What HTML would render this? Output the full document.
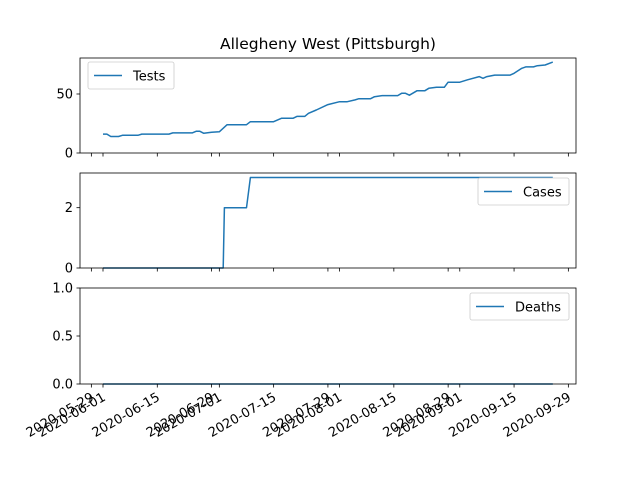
<!DOCTYPE html>
<html><head><meta charset="utf-8"><style>
body{margin:0;background:#fff}
svg{display:block;font-family:"DejaVu Sans","Liberation Sans",sans-serif}
</style></head><body>
<svg id="c" width="640" height="480" xmlns="http://www.w3.org/2000/svg"></svg>
<script>
const days=[0,1,2,4,5,9,10,17,18,23,24,25,26,28,30,32,37,38,44,46,49,50,52,53,55,58,61,63,65,66,69,70,72,76,77,78,79,81,83,84,86,88,89,92,94,97,98,99,101,105,106,108,109,111,112,114,116];
const tests=[16,16,14,14,15,15,16,16,17,17,18.4,18.4,16.7,17.5,18,24,24,26.5,26.5,29.4,29.4,31,31,33.6,36.4,41,43.5,43.5,45,46,46,47.7,48.6,48.6,50.6,50.6,49,52.8,52.8,54.8,55.7,55.7,60,60,62,64.7,63.3,64.7,66,66,67.5,71.8,73,73,74,74.6,77];
const caseDays=[0,31,31.3,37,38,116];
const cases=[0,0,2,2,3,3];
const deathDays=[0,116];
const deaths=[0,0];
const tickDays=[-3,0,14,28,30,44,58,61,75,89,92,106,120];
const tickLabels=["2020-05-29","2020-06-01","2020-06-15","2020-06-29","2020-07-01","2020-07-15","2020-07-29","2020-08-01","2020-08-15","2020-08-29","2020-09-01","2020-09-15","2020-09-29"];
const NS="http://www.w3.org/2000/svg";
const svg=document.getElementById('c');
function el(t,a,p){const e=document.createElementNS(NS,t);for(const k in a)e.setAttribute(k,a[k]);(p||svg).appendChild(e);return e;}
const L=80,R=576;
const xs=d=>103+3.878*d;
const panels=[
 {name:'tests',top:58,bot:153,ymax:80.5,yt:[0,50],yl:["0","50"],dx:days,dy:tests,leg:"Tests",lx:88,ly:62,lw:86},
 {name:'cases',top:173,bot:268,ymax:3.15,yt:[0,2],yl:["0","2"],dx:caseDays,dy:cases,leg:"Cases",lx:478,ly:178,lw:91},
 {name:'deaths',top:288,bot:384,ymax:1,yt:[0,0.5,1],yl:["0.0","0.5","1.0"],dx:deathDays,dy:deaths,leg:"Deaths",lx:470,ly:293,lw:99}
];
panels.forEach((p,pi)=>{
 const g=el('g',{});
 
 
 const ys=v=>p.bot-(v/p.ymax)*(p.bot-p.top);
 const pts=p.dx.map((d,i)=>xs(d).toFixed(1)+','+ys(p.dy[i]).toFixed(1)).join(' ');
 const ln=el('polyline',{points:pts,fill:'none',stroke:'#1f77b4','stroke-width':1.5,'stroke-linejoin':'round'},g);
 
 
 const fr=el('rect',{x:L,y:p.top,width:R-L,height:p.bot-p.top,fill:'none',stroke:'#000','stroke-width':0.8},g);
 
 
 p.yt.forEach((v,i)=>{
  const y=ys(v);
  el('line',{x1:L-3.5,x2:L,y1:y,y2:y,stroke:'#000','stroke-width':0.8},g);
  const t=el('text',{x:L-7,y:y+4.5,'text-anchor':'end','font-size':13,fill:'#000'},g);
  t.textContent=p.yl[i];
  
  
 });
 tickDays.forEach((d,i)=>{
  const x=xs(d);
  el('line',{x1:x,x2:x,y1:p.bot,y2:p.bot+3.5,stroke:'#000','stroke-width':0.8},g);
  if(pi===2){
   const px=x-1, py=392;
   const t=el('text',{x:px,y:py,'text-anchor':'end','dominant-baseline':'hanging','font-size':13,fill:'#000',transform:`rotate(-30 ${px} ${py})`},g);
   t.textContent=tickLabels[i];
   
   
  }
 });
 const lg=el('g',{},g);
 
 
 el('rect',{x:p.lx,y:p.ly,width:p.lw,height:27,rx:2,fill:'#fff',stroke:'#ccc','stroke-width':0.8},lg);
 el('line',{x1:p.lx+6,x2:p.lx+34,y1:p.ly+13.5,y2:p.ly+13.5,stroke:'#1f77b4','stroke-width':1.5},lg);
 const lt=el('text',{x:p.lx+45,y:p.ly+18.5,'font-size':13,fill:'#000'},lg);
 lt.textContent=p.leg;
});
const ti=el('text',{x:328,y:49,'text-anchor':'middle','font-size':15.5,fill:'#000'});
ti.textContent="Allegheny West (Pittsburgh)";


</script>
</body></html>
